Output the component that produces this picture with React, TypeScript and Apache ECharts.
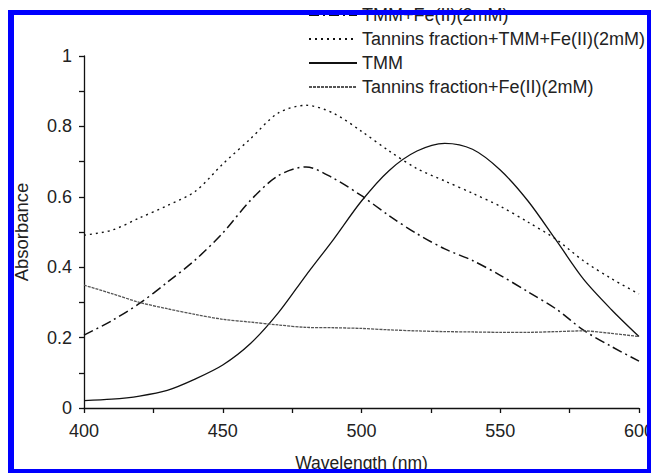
import React, { useEffect, useRef } from "react";
import * as echarts from "echarts";

const wavelengths = [400, 410, 420, 430, 440, 450, 460, 470, 480, 490, 500, 510, 520, 530, 540, 550, 560, 570, 580, 590, 600];

const seriesNames = [
  "TMM+Fe(II)(2mM)",
  "Tannins fraction+TMM+Fe(II)(2mM)",
  "TMM",
  "Tannins fraction+Fe(II)(2mM)",
];

const tmmFe = [0.207, 0.248, 0.297, 0.357, 0.42, 0.497, 0.59, 0.66, 0.685, 0.652, 0.603, 0.546, 0.495, 0.452, 0.419, 0.377, 0.33, 0.282, 0.221, 0.175, 0.133];
const tanninsTmmFe = [0.491, 0.505, 0.54, 0.575, 0.615, 0.693, 0.765, 0.838, 0.86, 0.837, 0.786, 0.73, 0.68, 0.645, 0.61, 0.573, 0.528, 0.48, 0.418, 0.368, 0.324];
const tmm = [0.021, 0.025, 0.034, 0.05, 0.082, 0.122, 0.183, 0.27, 0.377, 0.48, 0.588, 0.675, 0.73, 0.752, 0.735, 0.676, 0.588, 0.478, 0.366, 0.28, 0.203];
const tanninsFe = [0.349, 0.325, 0.3, 0.282, 0.266, 0.252, 0.244, 0.236, 0.229, 0.228, 0.226, 0.222, 0.219, 0.217, 0.216, 0.215, 0.215, 0.217, 0.219, 0.212, 0.203];

const xTicks = { min: 400, max: 600, interval: 25, labelStep: 50 };
const yTicks = { min: 0, max: 1, interval: 0.1 };

const FONT = "'Liberation Sans', Arial, sans-serif";

function pairs(ys: number[]) {
  return wavelengths.map((x, i) => [x, ys[i]]);
}

export default function App() {
  const ref = useRef<HTMLDivElement>(null);
  useEffect(() => {
    if (!ref.current) return;
    const chart = echarts.init(ref.current, null, { renderer: "svg" });
    const lineBase = { type: "line", symbol: "none", showSymbol: false, smooth: 0.3 };
    chart.setOption({
      animation: false,
      backgroundColor: "#ffffff",
      grid: { left: 84, right: 12, top: 56, bottom: 65, containLabel: false, outerBoundsMode: "none" },
      legend: {
        orient: "vertical",
        left: 303,
        top: 0,
        itemWidth: 48,
        itemHeight: 14,
        itemGap: 4,
        itemStyle: { opacity: 0 },
        textStyle: { fontFamily: FONT, fontSize: 18, color: "#222", lineHeight: 20 },
        data: seriesNames,
      },
      xAxis: {
        type: "value",
        min: xTicks.min,
        max: xTicks.max,
        interval: xTicks.interval,
        name: "Wavelength (nm)",
        nameLocation: "middle",
        nameGap: 46,
        nameTextStyle: { fontFamily: FONT, fontSize: 17.5, color: "#222" },
        axisLine: { show: true, lineStyle: { color: "#111", width: 1.3 } },
        axisTick: { show: true, length: 5, lineStyle: { color: "#111", width: 1.3 } },
        axisLabel: {
          fontFamily: FONT,
          fontSize: 18,
          color: "#222",
          margin: 14,
          formatter: (v: number) => (v % xTicks.labelStep === 0 ? String(v) : ""),
        },
        splitLine: { show: false },
      },
      yAxis: {
        type: "value",
        min: yTicks.min,
        max: yTicks.max,
        interval: yTicks.interval,
        name: "Absorbance",
        nameLocation: "middle",
        nameGap: 53,
        nameTextStyle: { fontFamily: FONT, fontSize: 18.5, color: "#222" },
        axisLine: { show: true, lineStyle: { color: "#111", width: 1.3 } },
        axisTick: { show: true, length: 5, lineStyle: { color: "#111", width: 1.3 } },
        axisLabel: {
          fontFamily: FONT,
          fontSize: 18,
          color: "#222",
          margin: 12,
          formatter: (v: number) => {
            const t = Math.round(v * 10);
            return t % 2 === 0 ? String(t / 10) : "";
          },
        },
        splitLine: { show: false },
      },
      series: [
        {
          ...lineBase,
          name: seriesNames[0],
          data: pairs(tmmFe),
          lineStyle: { color: "#111", width: 1.5, type: [10, 4, 2, 4] },
          itemStyle: { color: "#111" },
        },
        {
          ...lineBase,
          name: seriesNames[1],
          data: pairs(tanninsTmmFe),
          lineStyle: { color: "#111", width: 1.4, type: [2, 4] },
          itemStyle: { color: "#111" },
        },
        {
          ...lineBase,
          name: seriesNames[2],
          data: pairs(tmm),
          lineStyle: { color: "#111", width: 1.3, type: "solid" },
          itemStyle: { color: "#111" },
        },
        {
          ...lineBase,
          name: seriesNames[3],
          data: pairs(tanninsFe),
          lineStyle: { color: "#555", width: 1.3, type: [3, 1] },
          itemStyle: { color: "#555" },
        },
      ],
      graphic: [
        { type: "rect", z: 100, shape: { x: 8, y: 10, width: 6, height: 463 }, style: { fill: "#0000ff" } },
        { type: "rect", z: 100, shape: { x: 8, y: 10, width: 643, height: 5 }, style: { fill: "#0000ff" } },
        { type: "rect", z: 100, shape: { x: 647, y: 10, width: 4, height: 463 }, style: { fill: "#0000ff" } },
        { type: "rect", z: 100, shape: { x: 8, y: 469, width: 643, height: 4 }, style: { fill: "#0000ff" } },
      ],
    });
    return () => chart.dispose();
  }, []);
  return (
    <div
      ref={ref}
      style={{ position: "absolute", left: 0, top: 0, width: 651, height: 473, background: "#fff" }}
    />
  );
}
